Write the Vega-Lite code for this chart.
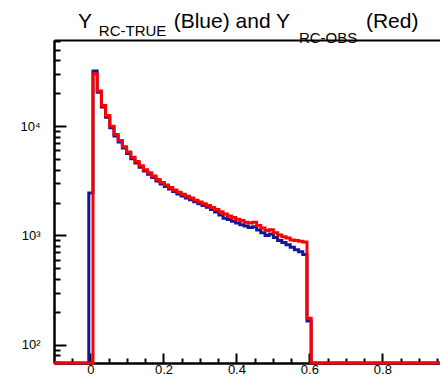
{
  "$schema": "https://vega.github.io/schema/vega-lite/v6.json",
  "width": 386,
  "height": 323,
  "autosize": {"type": "none"},
  "padding": {"left": 54, "top": 40, "right": 0, "bottom": 13},
  "background": "white",
  "config": {
    "view": {"stroke": null},
    "font": "Liberation Sans",
    "axis": {"grid": false, "domainColor": "black", "tickColor": "black", "labelColor": "black", "domainWidth": 2, "tickWidth": 2, "labelFont": "Liberation Sans", "labelFontSize": 13, "title": null}
  },
  "title": {
    "text": "Y\u00a0\u00a0\u00a0\u00a0\u00a0\u00a0\u00a0\u00a0\u00a0\u00a0\u00a0\u00a0\u00a0\u00a0(Blue) and Y\u00a0\u00a0\u00a0\u00a0\u00a0\u00a0\u00a0\u00a0\u00a0\u00a0\u00a0\u00a0\u00a0(Red)",
    "subtitle": ["\u200b\u00a0\u00a0\u00a0\u00a0\u00a0RC-TRUE", "\u200b\u00a0\u00a0\u00a0\u00a0\u00a0\u00a0\u00a0\u00a0\u00a0\u00a0\u00a0\u00a0\u00a0\u00a0\u00a0\u00a0\u00a0\u00a0\u00a0\u00a0\u00a0\u00a0\u00a0\u00a0\u00a0\u00a0\u00a0\u00a0\u00a0\u00a0\u00a0\u00a0\u00a0\u00a0\u00a0\u00a0\u00a0\u00a0\u00a0\u00a0\u00a0\u00a0\u00a0\u00a0\u00a0\u00a0\u00a0\u00a0\u00a0\u00a0\u00a0\u00a0\u00a0RC-OBS"],
    "anchor": "start",
    "frame": "group",
    "dx": 24,
    "offset": -6,
    "font": "Liberation Sans",
    "fontSize": 21,
    "fontWeight": "normal",
    "color": "black",
    "subtitleFont": "Liberation Sans",
    "subtitleFontSize": 15,
    "subtitleColor": "black",
    "subtitlePadding": -8,
    "subtitleLineHeight": 7
  },
  "data": {"values": [
    {"x": -0.1, "blue": 0, "red": 0},
    {"x": -0.0046, "blue": 2450, "red": 0},
    {"x": 0.0069, "blue": 32000, "red": 30000},
    {"x": 0.0184, "blue": 20500, "red": 21000},
    {"x": 0.0299, "blue": 15000, "red": 15500},
    {"x": 0.0414, "blue": 12100, "red": 12500},
    {"x": 0.0529, "blue": 9700, "red": 10000},
    {"x": 0.0644, "blue": 8150, "red": 8400},
    {"x": 0.0759, "blue": 7150, "red": 7400},
    {"x": 0.0874, "blue": 6300, "red": 6500},
    {"x": 0.0989, "blue": 5620, "red": 5800},
    {"x": 0.1104, "blue": 5040, "red": 5200},
    {"x": 0.1219, "blue": 4600, "red": 4750},
    {"x": 0.1334, "blue": 4220, "red": 4350},
    {"x": 0.1449, "blue": 3880, "red": 4000},
    {"x": 0.1564, "blue": 3630, "red": 3750},
    {"x": 0.1679, "blue": 3390, "red": 3500},
    {"x": 0.1794, "blue": 3150, "red": 3250},
    {"x": 0.1909, "blue": 2950, "red": 3050},
    {"x": 0.2024, "blue": 2800, "red": 2900},
    {"x": 0.2139, "blue": 2660, "red": 2750},
    {"x": 0.2254, "blue": 2520, "red": 2600},
    {"x": 0.2369, "blue": 2400, "red": 2480},
    {"x": 0.2484, "blue": 2300, "red": 2380},
    {"x": 0.2599, "blue": 2200, "red": 2280},
    {"x": 0.2714, "blue": 2120, "red": 2200},
    {"x": 0.2829, "blue": 2030, "red": 2100},
    {"x": 0.2944, "blue": 1950, "red": 2020},
    {"x": 0.3059, "blue": 1880, "red": 1950},
    {"x": 0.3174, "blue": 1810, "red": 1880},
    {"x": 0.3289, "blue": 1730, "red": 1800},
    {"x": 0.3404, "blue": 1640, "red": 1730},
    {"x": 0.3519, "blue": 1540, "red": 1650},
    {"x": 0.3634, "blue": 1440, "red": 1570},
    {"x": 0.3749, "blue": 1400, "red": 1510},
    {"x": 0.3864, "blue": 1350, "red": 1460},
    {"x": 0.3979, "blue": 1300, "red": 1410},
    {"x": 0.4094, "blue": 1250, "red": 1370},
    {"x": 0.4209, "blue": 1220, "red": 1320},
    {"x": 0.4324, "blue": 1180, "red": 1300},
    {"x": 0.4439, "blue": 1200, "red": 1320},
    {"x": 0.4554, "blue": 1120, "red": 1230},
    {"x": 0.4669, "blue": 1060, "red": 1170},
    {"x": 0.4784, "blue": 1000, "red": 1110},
    {"x": 0.4899, "blue": 1030, "red": 1130},
    {"x": 0.5014, "blue": 960, "red": 1060},
    {"x": 0.5129, "blue": 900, "red": 1010},
    {"x": 0.5244, "blue": 860, "red": 975},
    {"x": 0.5359, "blue": 820, "red": 950},
    {"x": 0.5474, "blue": 780, "red": 910},
    {"x": 0.5589, "blue": 740, "red": 900},
    {"x": 0.5704, "blue": 710, "red": 885},
    {"x": 0.5819, "blue": 670, "red": 870},
    {"x": 0.5934, "blue": 165, "red": 175},
    {"x": 0.6049, "blue": 0, "red": 0},
    {"x": 0.958, "blue": 0, "red": 0}
  ]},
  "layer": [
    {
      "mark": {"type": "line", "interpolate": "step-after", "color": "#15159a", "strokeWidth": 3, "invalid": "show"},
      "encoding": {
        "x": {"field": "x", "type": "quantitative", "scale": {"domain": [-0.1, 0.958], "nice": false, "zero": false},
              "axis": {"orient": "bottom", "values": [-0.05, 0.05, 0.1, 0.15, 0.25, 0.3, 0.35, 0.45, 0.5, 0.55, 0.65, 0.7, 0.75, 0.85, 0.9, 0.95], "labels": false, "tickSize": -5, "domain": true}},
        "y": {"field": "blue", "type": "quantitative", "scale": {"type": "log", "domain": [68, 61500], "nice": false, "clamp": true},
              "axis": {"orient": "left", "values": [70, 80, 90, 200, 300, 400, 500, 600, 700, 800, 900, 2000, 3000, 4000, 5000, 6000, 7000, 8000, 9000, 20000, 30000, 40000, 50000, 60000], "labels": false, "tickSize": -6, "domain": true}}
      }
    },
    {
      "mark": {"type": "line", "interpolate": "step-after", "color": "#ff0000", "strokeWidth": 3, "invalid": "show"},
      "encoding": {
        "x": {"field": "x", "type": "quantitative",
              "axis": {"orient": "bottom", "values": [0, 0.2, 0.4, 0.6, 0.8], "tickSize": -10, "labelPadding": 10, "labelExpr": "datum.value == 0 ? '0' : format(datum.value, '.1f')"}},
        "y": {"field": "red", "type": "quantitative",
              "axis": {"orient": "left", "values": [100, 1000, 10000], "tickSize": -12, "labelPadding": 26, "labelExpr": "datum.value == 100 ? '10²' : datum.value == 1000 ? '10³' : '10⁴'"}}
      }
    },
    {
      "mark": {"type": "line", "strokeOpacity": 0, "invalid": "show"},
      "encoding": {
        "x": {"field": "x", "type": "quantitative", "axis": {"orient": "top", "ticks": false, "labels": false, "domain": true}},
        "y": {"field": "red", "type": "quantitative", "axis": null}
      }
    }
  ],
  "resolve": {"axis": {"x": "independent", "y": "independent"}}
}
